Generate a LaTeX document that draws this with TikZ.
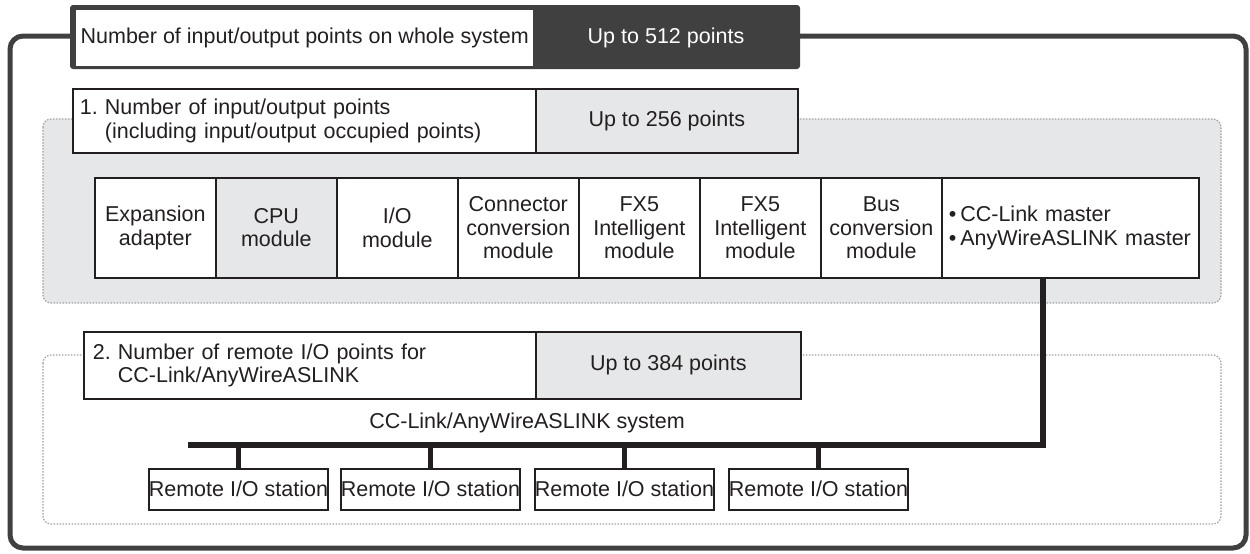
\documentclass[tikz,border=0pt]{standalone}
\usepackage{fontspec}
\setmainfont{Liberation Sans}
\frenchspacing
\definecolor{frame}{HTML}{404040}
\definecolor{lgray}{HTML}{E6E7E8}
\definecolor{dgray}{HTML}{9D9FA2}
\definecolor{txt}{HTML}{231F20}
\begin{document}
\begin{tikzpicture}[x=1pt,y=-1pt,
  every node/.style={font=\fontsize{21.5}{23.5}\selectfont, text=txt},
  cell/.style={draw=txt, line width=1.6pt, anchor=north west, inner sep=0pt, align=center},
  modbox/.style={cell, minimum width=121pt, minimum height=100pt},
  station/.style={cell, minimum width=179pt, minimum height=41pt},
  region/.style={draw=dgray, line width=1.2pt, dash pattern=on 1.5pt off 1.5pt, rounded corners=8pt},
  busline/.style={draw=txt, line width=6pt},
  stub/.style={draw=txt, line width=5pt}]
\useasboundingbox (0,0) rectangle (1250,554);
% outer frame
\draw[frame, line width=5pt, rounded corners=13pt] (72,36) -- (10,36) -- (10,548) -- (1246,548) -- (1246,36) -- (798,36);
% title box
\fill[frame, rounded corners=3pt] (70,5) rectangle (800,69);
\node[fill=white, anchor=north west, inner sep=0pt, minimum width=457pt, minimum height=56pt] (ttl) at (76,10) {Number of input/output points on whole system};
\node[anchor=center, text=white] (ttlv) at (666,38) {Up to 512 points};
% region 1
\draw[region, fill=lgray] (43,119) rectangle (1221,303);
\node[cell, fill=white, minimum width=463pt, minimum height=64pt, align=left, text width=449pt, inner xsep=6pt] (l1) at (72,88) {1. Number of input/output points\\\phantom{1. }(including input/output occupied points)};
\node[cell, fill=lgray, minimum width=262pt, minimum height=64pt] (v1) at (535,88) {Up to 256 points};
% modules
\node[modbox, fill=white] (m1) at (94,177) {Expansion\\adapter};
\node[modbox, fill=lgray] (m2) at (215,177) {CPU\\module};
\node[modbox, fill=white] (m3) at (336,177) {I/O\\module};
\node[modbox, fill=white] (m4) at (457,177) {Connector\\conversion\\module};
\node[modbox, fill=white] (m5) at (578,177) {FX5\\Intelligent\\module};
\node[modbox, fill=white] (m6) at (699,177) {FX5\\Intelligent\\module};
\node[modbox, fill=white] (m7) at (820,177) {Bus\\conversion\\module};
\node[cell, fill=white, minimum width=257pt, minimum height=100pt, align=left, text width=243pt, inner xsep=6pt] (m8) at (941,177) {\textbullet\hspace{4pt}CC-Link master\\\textbullet\hspace{4pt}AnyWireASLINK master};
% region 2
\draw[region, fill=white] (43,355) rectangle (1221,524);
\node[cell, fill=white, minimum width=452pt, minimum height=67pt, align=left, text width=434pt, inner xsep=8pt] (l2) at (83,331) {2. Number of remote I/O points for\\\phantom{2. }CC-Link/AnyWireASLINK};
\node[cell, fill=lgray, minimum width=265pt, minimum height=67pt] (v2) at (535,331) {Up to 384 points};
\node (sys) at (527,423) {CC-Link/AnyWireASLINK system};
% stations
\node[station, fill=white] (s1) at (148,468) {Remote I/O station};
\node[station, fill=white] (s2) at (340,468) {Remote I/O station};
\node[station, fill=white] (s3) at (534,468) {Remote I/O station};
\node[station, fill=white] (s4) at (728,468) {Remote I/O station};
% bus
\coordinate (bl) at (188,445);
\coordinate (br) at (1043,445);
\draw[busline] (m8.south -| br) -- (br);
\draw[busline] ([xshift=3pt]br) -- (bl);
\foreach \s in {s1,s2,s3,s4}{
  \draw[stub] (\s.north) -- (\s.north |- bl);
}
\end{tikzpicture}
\end{document}
